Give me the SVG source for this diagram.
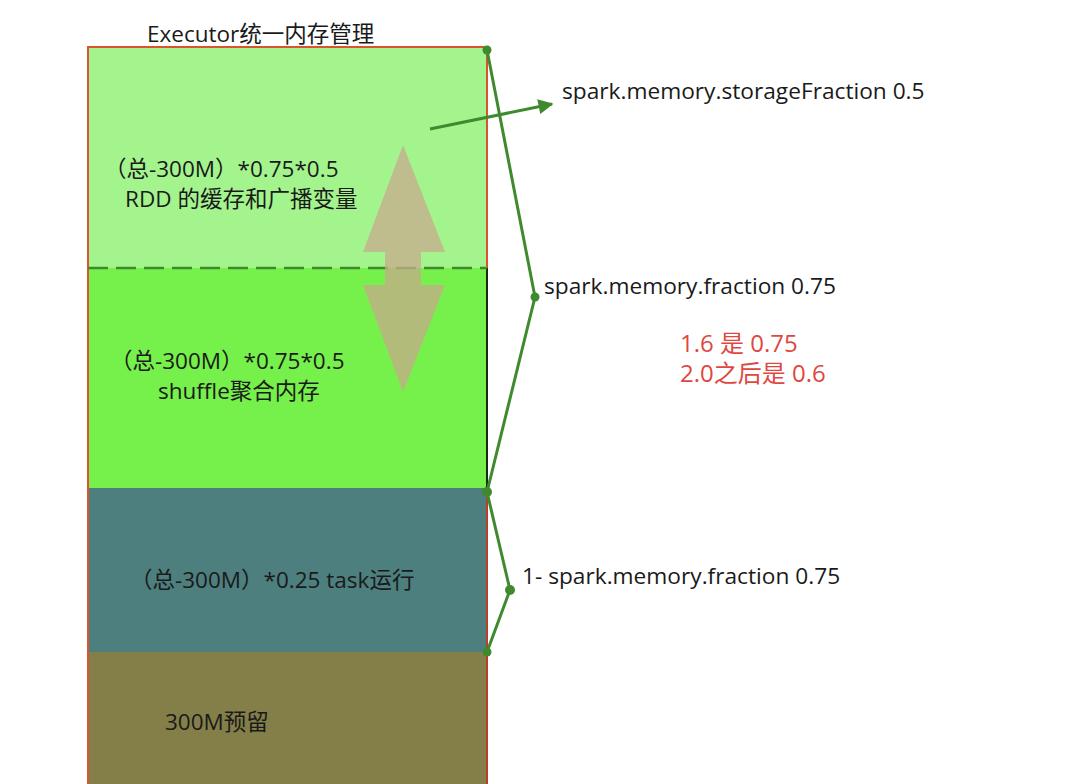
<svg xmlns="http://www.w3.org/2000/svg" width="1080" height="784" viewBox="0 0 1080 784">
<defs>
<style>
.t{font-family:"Open Sans","Noto Sans CJK SC",sans-serif;font-size:22.5px;fill:#1a1a1a}
.l{font-family:"Open Sans","Noto Sans CJK SC",sans-serif;font-size:22.7px;fill:#1a1a1a}
.r{font-family:"Open Sans","Noto Sans CJK SC",sans-serif;font-size:24px;fill:#e0473f}
.br{fill:none;stroke:#3f8a2e;stroke-width:3;stroke-linejoin:round}
.dot{fill:#3f8a2e}
</style>
<marker id="ah" viewBox="0 0 10 10" refX="9" refY="5" markerWidth="6" markerHeight="5" orient="auto" markerUnits="strokeWidth">
<path d="M0,0 L10,5 L0,10 z" fill="#3f8a2e"/>
</marker>
</defs>
<rect width="1080" height="784" fill="#ffffff"/>
<g id="title"><text class="t" x="147" y="42">Executor统一内存管理</text></g>
<g id="storage">
<rect x="88" y="47" width="399" height="221" fill="#a4f48e"/>
<text class="t" x="104" y="177">（总-300M）*0.75*0.5</text>
<text class="t" x="125" y="207">RDD 的缓存和广播变量</text>
</g>
<g id="execution">
<rect x="88" y="268" width="399" height="220" fill="#76f04a"/>
<text class="t" x="110" y="369">（总-300M）*0.75*0.5</text>
<text class="t" x="158" y="399">shuffle聚合内存</text>
</g>
<g id="user">
<rect x="88" y="488" width="399" height="164" fill="#4d7f7e"/>
<text class="t" x="130" y="588">（总-300M）*0.25 task运行</text>
</g>
<g id="reserved">
<rect x="88" y="652" width="399" height="140" fill="#847f48"/>
<text class="t" x="165" y="730">300M预留</text>
</g>
<g id="frame">
<path d="M88,790 L88,47 L487,47 L487,268" fill="none" stroke="#d9542f" stroke-width="2"/>
<line x1="487" y1="268" x2="487" y2="488" stroke="#1a2a10" stroke-width="2"/>
<line x1="487" y1="488" x2="487" y2="790" stroke="#b8402a" stroke-width="2"/>
<line x1="88" y1="268" x2="487" y2="268" stroke="#3f8a2e" stroke-width="2.5" stroke-dasharray="20,8"/>
</g>
<g id="double-arrow" opacity="0.75">
<path d="M403,145 L445,252 L421,252 L421,285 L445,285 L403,392 L363,285 L385,285 L385,252 L363,252 Z" fill="#c8aa8c"/>
</g>
<g id="connectors">
<polyline class="br" points="487,50 535,297 487,492"/>
<polyline class="br" points="487,492 510,590 487,652"/>
<circle class="dot" cx="487" cy="50" r="4.5"/>
<circle class="dot" cx="535" cy="297" r="4.5"/>
<circle class="dot" cx="487" cy="492" r="5"/>
<circle class="dot" cx="510" cy="590" r="5"/>
<circle class="dot" cx="487" cy="652" r="4.5"/>
<line x1="430" y1="129" x2="552" y2="104" stroke="#3f8a2e" stroke-width="3" marker-end="url(#ah)"/>
</g>
<g id="labels">
<text class="l" x="562" y="99">spark.memory.storageFraction 0.5</text>
<text class="l" x="544" y="294">spark.memory.fraction 0.75</text>
<text class="r" x="680" y="352">1.6 是 0.75</text>
<text class="r" x="680" y="382">2.0之后是 0.6</text>
<text class="l" x="522" y="584">1- spark.memory.fraction 0.75</text>
</g>
</svg>
